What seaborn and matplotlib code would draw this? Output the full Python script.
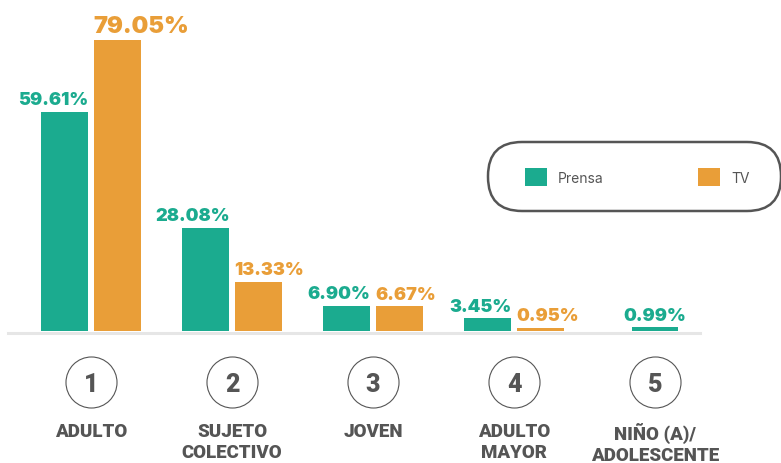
import pandas as pd
import seaborn as sns
import matplotlib.pyplot as plt
from matplotlib.patches import Patch, FancyBboxPatch

# datos del gráfico (porcentajes)
categorias = ['ADULTO', 'SUJETO\nCOLECTIVO', 'JOVEN', 'ADULTO\nMAYOR', 'NIÑO (A)/\nADOLESCENTE']
numeros = ['1', '2', '3', '4', '5']
prensa = [59.61, 28.08, 6.90, 3.45, 0.99]
tv = [79.05, 13.33, 6.67, 0.95, None]
series = ['Prensa', 'TV']

verde = '#1bab8f'
naranja = '#e99e38'
gris = '#555555'

# posiciones: pares desplazados, barra sola centrada
desp = 0.185
filas = []
for i in range(len(categorias)):
    if tv[i] is None:
        filas.append({'pos': i, 'valor': prensa[i], 'serie': 'Prensa'})
    else:
        filas.append({'pos': i - desp, 'valor': prensa[i], 'serie': 'Prensa'})
        filas.append({'pos': i + desp, 'valor': tv[i], 'serie': 'TV'})
df = pd.DataFrame(filas)

fig = plt.figure(figsize=(7.81, 4.64), dpi=100)
ax = fig.add_axes([0, 0, 1, 1])

sns.barplot(data=df, x='pos', y='valor', hue='serie', hue_order=series,
            palette=[verde, naranja], saturation=1, native_scale=True, dodge=False,
            width=0.9, errorbar=None, legend=False, ax=ax)

# escala: 141 px por categoria, 3.68 px por punto porcentual
ax.set_xlim(-91 / 141, (781 - 91) / 141)
ax.set_ylim(-(464 - 332) / 3.68, 332 / 3.68)
ax.axis('off')

# linea base gris
ax.axhline(-0.5, xmin=8 / 781, xmax=700 / 781, color='#e6e6e6', lw=2.2, zorder=0)

# etiquetas de valores
maximo = max(v for v in tv if v is not None)
for k, cont in enumerate(ax.containers):
    color = verde if k == 0 else naranja
    for barra in cont:
        h = barra.get_height()
        x0 = barra.get_x()
        w = barra.get_width()
        centro = x0 + w / 2
        if abs(centro - round(centro)) < 1e-6:
            xt, ha = centro, 'center'
        elif k == 0:
            xt, ha = x0 + w, 'right'
        else:
            xt, ha = x0, 'left'
        tam = 17 if h == maximo else 13
        ax.annotate(f'{h:.2f}%', (xt, h), xytext=(0, 5.5), textcoords='offset points',
                    ha=ha, va='baseline', color=color, fontsize=tam,
                    fontweight='black', family='Inter')

# circulos con numero y nombre de categoria
idx = list(range(len(categorias)))
y_circ = (332 - 383) / 3.68
ax.scatter(idx, [y_circ] * len(idx), s=1350, facecolor='white',
           edgecolor='#555555', linewidth=0.8, zorder=3, clip_on=False)
for i in idx:
    ax.text(i, y_circ, numeros[i], ha='center', va='center_baseline', fontsize=18,
            fontweight='black', color=gris, family='Roboto', zorder=4)
    ax.text(i, (332 - 423) / 3.68, categorias[i], ha='center', va='top', fontsize=13.5,
            fontweight='black', color=gris, family='Roboto', linespacing=1.2)

# leyenda dentro de una caja redondeada (detras de los ejes)
caja = FancyBboxPatch((488, 252), 293, 69, boxstyle='round,pad=0,rounding_size=34',
                      transform=None, facecolor='white', edgecolor=gris, lw=1.8,
                      zorder=-1)
fig.patches.append(caja)
manijas = [Patch(facecolor=verde, label='Prensa'), Patch(facecolor=naranja, label='TV')]
leg = ax.legend(handles=manijas, ncol=2, loc='center left', frameon=False,
                bbox_to_anchor=(525 / 781, 286 / 464), bbox_transform=fig.transFigure,
                borderpad=0, borderaxespad=0, handlelength=1.58, handleheight=1.58,
                handletextpad=0.8, columnspacing=6.8,
                prop={'family': 'Inter', 'size': 10})
for t in leg.get_texts():
    t.set_color(gris)

plt.savefig('out.png', dpi=100)
